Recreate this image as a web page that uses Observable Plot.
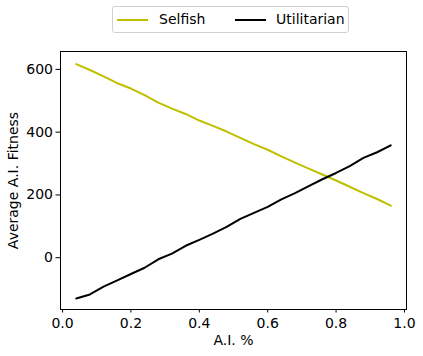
<!DOCTYPE html>
<html>
<head>
<meta charset="utf-8">
<script src="https://cdn.jsdelivr.net/npm/d3@7"></script>
<script src="https://cdn.jsdelivr.net/npm/@observablehq/plot@0.6"></script>
<style>
  body { margin: 0; background: #fff; font-family: "DejaVu Sans", sans-serif; }
  #wrap { width: 423px; height: 356px; position: relative; }
  #legend { position: relative; width: 423px; height: 40px; }
  #legend .box { position: absolute; left: 112px; top: 6px; width: 237px; height: 27px;
    border: 1px solid #d0d0d0; border-radius: 3px; box-sizing: border-box; }
  #legend .sw { position: absolute; height: 2px; top: 12px; width: 31px; }
  #legend .lb { position: absolute; top: 3px; font-size: 14px; line-height: 18px; color: #000; }
</style>
</head>
<body>
<div id="wrap">
  <div id="legend"></div>
  <div id="chart"></div>
</div>
<script>
const aiPct = [0.04,0.08,0.12,0.16,0.20,0.24,0.28,0.32,0.36,0.40,0.44,0.48,0.52,0.56,0.60,0.64,0.68,0.72,0.76,0.80,0.84,0.88,0.92,0.96];
const selfish = [617,598,578,556,539,518,494,475,458,437,420,402,382,362,344,323,303,284,265,246,226,206,187,166];
const utilitarian = [-130,-117,-92,-72,-52,-32,-5,13,38,57,77,98,124,143,162,186,206,228,250,270,292,318,336,358];
const seriesNames = ["Selfish", "Utilitarian"];
const seriesColors = ["#bfbf00", "#000000"];
const xTicks = [0, 0.2, 0.4, 0.6, 0.8, 1.0];
const yTicks = [0, 200, 400, 600];

const rows = [];
aiPct.forEach((x, i) => {
  rows.push({x, y: selfish[i], s: seriesNames[0]});
  rows.push({x, y: utilitarian[i], s: seriesNames[1]});
});

// legend
const legend = document.getElementById("legend");
const box = document.createElement("div");
box.className = "box";
legend.appendChild(box);
const swLeft = [4, 122];
const lbLeft = [46, 163];
seriesNames.forEach((n, i) => {
  const sw = document.createElement("div");
  sw.className = "sw";
  sw.style.left = swLeft[i] + "px";
  sw.style.background = seriesColors[i];
  box.appendChild(sw);
  const lb = document.createElement("div");
  lb.className = "lb";
  lb.style.left = lbLeft[i] + "px";
  lb.textContent = n;
  box.appendChild(lb);
});

const chart = Plot.plot({
  width: 423,
  height: 316,
  marginTop: 11,
  marginBottom: 47,
  marginLeft: 60,
  marginRight: 17,
  style: { fontFamily: "DejaVu Sans, sans-serif", fontSize: "14px", color: "#000", background: "#fff" },
  x: { domain: [-0.006, 1.006] },
  y: { domain: [-165, 657] },
  color: { domain: seriesNames, range: seriesColors },
  marks: [
    Plot.line(rows, { x: "x", y: "y", z: "s", stroke: "s", strokeWidth: 2 }),
    Plot.frame({ stroke: "#000", strokeWidth: 1 }),
    Plot.axisX({ ticks: xTicks, tickFormat: d3.format(".1f"), tickSize: 3.5, tickPadding: 5, label: null, fontSize: 14 }),
    Plot.axisY({ ticks: yTicks, tickFormat: d => String(d), tickSize: 4.5, tickPadding: 3, label: null, fontSize: 14 }),
    Plot.text(["A.I. %"], { frameAnchor: "bottom", textAnchor: "middle", lineAnchor: "middle", dy: 31, fontSize: 14 }),
    Plot.text(["Average A.I. Fitness"], { frameAnchor: "left", textAnchor: "middle", lineAnchor: "middle", dx: -46.5, rotate: -90, fontSize: 14 })
  ]
});
document.getElementById("chart").appendChild(chart);
</script>
</body>
</html>
